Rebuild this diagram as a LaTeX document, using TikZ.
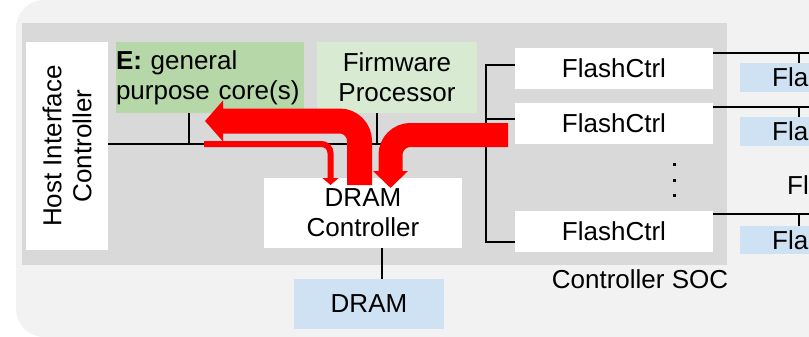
\documentclass[tikz,border=0pt]{standalone}
\usepackage{fontspec}
\setmainfont{Liberation Sans}
\usetikzlibrary{arrows.meta}
\definecolor{colbg}{HTML}{F2F2F2}
\definecolor{colsoc}{HTML}{D9D9D9}
\definecolor{colgp}{HTML}{B6D7A8}
\definecolor{colfw}{HTML}{D9EAD3}
\definecolor{colfl}{HTML}{CFE2F3}
\definecolor{colar}{HTML}{FF0000}

\begin{document}
\begin{tikzpicture}[x=1pt, y=-1pt]
    \tikzstyle{blk} += [rectangle, inner sep=0pt, align=center, font=\fontsize{26}{30}\selectfont];
    \tikzstyle{wbox} += [blk, fill=white];
    \tikzstyle{fbox} += [blk, fill=colfl];
    \tikzstyle{ctl} += [wbox, minimum width=198, minimum height=41];
    \useasboundingbox (0,0) rectangle (809,337);
    \clip (0,0) rectangle (809,337);
    \fill[colbg, rounded corners=28pt] (16,0) rectangle (900,337);

    \node (soc) at (374.5,144) [blk, fill=colsoc, minimum width=705, minimum height=242]{};
    \node (hic) at ( 67,146) [wbox, rotate=90, minimum width=208, minimum height=82]{Host Interface\\Controller};
    \node (gpc) at (210,77.5) [blk, fill=colgp, align=left, text width=188, minimum height=71]{\textbf{E:} general\\purpose core(s)};
    \node (fwp) at (397,77.5) [blk, fill=colfw, minimum width=160, minimum height=71]{Firmware\\Processor};
    \node (fc1) at (614,68.5) [ctl]{FlashCtrl};
    \node (fc2) at (614,123.5) [ctl]{FlashCtrl};
    \node (fc3) at (614,231.5) [ctl]{FlashCtrl};
    \node (dct) at (363,213) [wbox, minimum width=198, minimum height=70]{DRAM\\Controller};
    \node (drm) at (369,304) [fbox, minimum width=150, minimum height=50]{DRAM};
    \node (fl1) at (804,77.5) [fbox, minimum width=128, minimum height=29]{Flash};
    \node (fl2) at (804,131.5) [fbox, minimum width=128, minimum height=29]{Flash};
    \node (fl3) at (804,240) [fbox, minimum width=128, minimum height=28]{Flash};
    \node (flm) at (787,185) [blk, anchor=west]{Flash};
    \node (lbl) at (640,279) [blk]{Controller SOC};
    \foreach \y in {162.5,178.5,193.5}
      \fill (672.5,\y) rectangle +(3,3);

    \coordinate (busl) at (108,144);
    \coordinate (busr) at (486,144);
    \coordinate (a1s) at (359.5,185);
    \coordinate (a1e) at (205,121);
    \coordinate (a2s) at (508,135);
    \coordinate (a2e) at (390.5,188);
    \coordinate (a3s) at (204,144);
    \coordinate (a3e) at (330.5,185);

    \begin{scope}[line width=1.5pt]
      \draw (hic.south |- busl) -- (busr);
      \draw ([xshift=-21pt]gpc.south) -- ([xshift=-21pt]gpc.south |- busl);
      \draw ([xshift=-20pt]fwp.south) -- ([xshift=-20pt]fwp.south |- busl);
      \draw ([xshift=19pt]dct.south) -- ([xshift=19pt]dct.south |- drm.north);
      \draw (fc1.west |- 0,65) -| (busr |- 0,242) -- (fc3.west |- 0,242);
      \draw (fc2.west |- 0,119) -- (busr |- 0,119);
      \draw (fc1.east |- 0,53) -- (820,53);
      \draw (fc2.east |- 0,107) -- (820,107);
      \draw (fc3.east |- 0,214) -- (820,214);
      \draw (799,53) -- (799,53 |- fl1.north);
      \draw (799,107) -- (799,107 |- fl2.north);
      \draw (799,214) -- (799,214 |- fl3.north);
    \end{scope}

    \begin{scope}[colar]
      \draw[line width=25pt, rounded corners=20pt, -{Triangle[length=18pt, width=40pt]}] (a1s) -- (a1s |- a1e) -- (a1e);
      \draw[line width=24pt, rounded corners=20pt, -{Triangle[length=17pt, width=34pt]}] (a2s) -- (a2e |- a2s) -- (a2e);
      \draw[line width=6pt, rounded corners=9pt, -{Triangle[length=7pt, width=16pt]}] (a3s) -- (a3e |- a3s) -- (a3e);
    \end{scope}
\end{tikzpicture}
\end{document}
